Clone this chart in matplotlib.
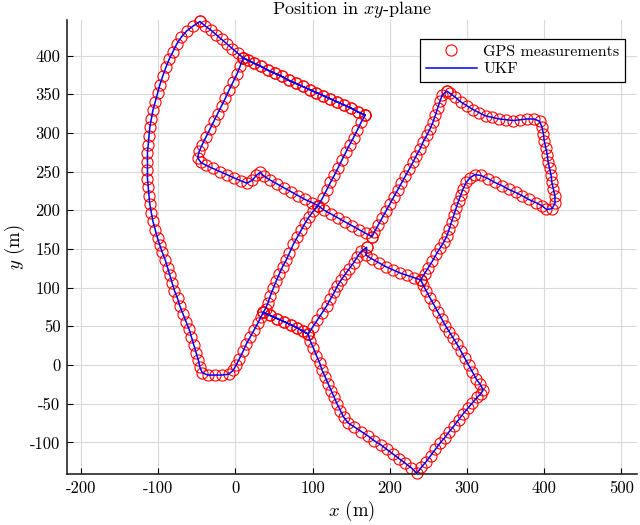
import numpy as np
import matplotlib.pyplot as plt

# road segments of the drive, (x, y) in metres
top_edge = [(168, 323), (159, 327), (150, 332), (141, 336), (132, 340), (123, 344),
            (114, 348), (105, 352), (96, 356), (87, 360), (78, 364), (69, 368),
            (60, 373), (51, 377), (42, 381), (33, 386), (24, 390), (16, 394), (10, 397)]
top_left = [(10, 397), (3, 403), (-4, 409), (-11, 415), (-18, 421), (-25, 427),
            (-32, 433), (-39, 438), (-46, 444)]
outer_curve = [(-46, 444), (-55, 438), (-63, 432), (-70, 424), (-76, 415), (-81, 405),
               (-86, 395), (-90, 385), (-94, 374), (-98, 362), (-101, 351), (-104, 340),
               (-107, 329), (-109, 318), (-111, 307), (-112, 296), (-113, 285), (-114, 274),
               (-114, 263), (-114, 252), (-114, 241), (-113, 230), (-112, 219), (-111, 208),
               (-109, 197), (-107, 186), (-104, 175), (-101, 164), (-98, 155), (-95, 146),
               (-91, 136), (-88, 126), (-85, 116), (-82, 106), (-79, 96), (-75, 86),
               (-72, 76), (-68, 66), (-64, 56), (-60, 46), (-57, 36), (-54, 26),
               (-51, 16), (-48, 6), (-46, -3), (-43, -10), (-36, -13), (-27, -13),
               (-18, -13), (-9, -12), (-3, -7), (1, 0), (5, 8), (10, 18), (14, 27),
               (19, 36), (24, 45), (29, 54), (33, 62), (36, 68)]
n1_n2 = [(36, 68), (45, 64), (54, 60), (63, 56), (72, 52), (80, 48), (87, 44), (94, 40)]
bottom_loop = [(94, 40), (97, 31), (101, 22), (105, 12), (109, 3), (112, -6), (116, -15),
               (120, -24), (124, -33), (128, -42), (132, -51), (136, -59), (140, -67),
               (146, -75), (154, -80), (163, -86), (172, -92), (180, -98), (188, -103),
               (196, -109), (204, -115), (212, -121), (220, -127), (228, -133), (235, -140),
               (241, -132), (247, -125), (253, -117), (259, -109), (265, -101), (271, -94),
               (277, -86), (283, -79), (289, -71), (295, -63), (301, -56), (307, -49),
               (313, -42), (318, -37), (321, -32), (317, -25), (312, -18), (307, -9),
               (302, 0), (297, 9), (292, 18), (287, 27), (282, 35), (277, 43), (272, 51),
               (267, 60), (262, 69), (257, 78), (252, 87), (247, 96), (243, 104), (240, 110)]
east_block = [(240, 110), (245, 118), (250, 126), (255, 134), (260, 143), (265, 151),
              (270, 159), (274, 167), (277, 176), (280, 185), (283, 194), (286, 203),
              (289, 212), (292, 220), (295, 228), (299, 236), (304, 242), (310, 246),
              (318, 245), (327, 241), (336, 236), (345, 232), (354, 227), (363, 223),
              (371, 219), (380, 214), (389, 210), (397, 206), (403, 201), (410, 202),
              (414, 209), (414, 218), (412, 227), (410, 236), (409, 245), (407, 254),
              (405, 263), (404, 272), (402, 281), (400, 290), (399, 299), (397, 308),
              (394, 315), (387, 318), (378, 318), (369, 317), (360, 316), (351, 317),
              (342, 318), (333, 320), (324, 322), (316, 326), (308, 330), (300, 335),
              (292, 340), (285, 346), (278, 351), (274, 354)]
r_to_c2 = [(274, 354), (268, 349), (265, 341), (262, 332), (259, 323), (256, 314),
           (252, 305), (248, 297), (243, 288), (239, 279), (234, 270), (230, 262),
           (225, 253), (220, 244), (215, 235), (210, 226), (205, 217), (200, 208),
           (195, 199), (190, 190), (185, 181), (180, 172), (177, 166)]
c2_to_c1 = [(177, 166), (169, 170), (160, 175), (151, 180), (142, 185), (133, 190),
            (124, 195), (115, 200), (107, 206)]
middle_loop = [(107, 206), (99, 210), (90, 214), (81, 219), (72, 224), (63, 229),
               (54, 234), (45, 239), (37, 244), (32, 249), (27, 245), (22, 239),
               (15, 235), (7, 238), (-2, 242), (-11, 246), (-20, 250), (-29, 254),
               (-38, 258), (-45, 262), (-49, 268), (-47, 276), (-43, 285), (-38, 295),
               (-33, 305), (-28, 315), (-23, 325), (-18, 335), (-13, 345), (-8, 356),
               (-3, 366), (2, 376), (6, 386), (10, 397)]
q_to_c1 = [(168, 323), (163, 314), (158, 304), (153, 294), (148, 285), (143, 275),
           (138, 265), (133, 255), (128, 245), (123, 236), (118, 226), (113, 216), (107, 206)]
c1_to_n1 = [(107, 206), (101, 199), (95, 191), (90, 183), (85, 174), (80, 165),
            (75, 156), (70, 145), (66, 136), (61, 127), (57, 118), (53, 109),
            (49, 99), (45, 89), (42, 80), (39, 73), (36, 68)]
n2_to_c2 = [(94, 40), (100, 49), (106, 58), (112, 67), (118, 76), (123, 85), (128, 94),
            (132, 102), (137, 110), (142, 117), (147, 124), (153, 132), (158, 140),
            (163, 147), (170, 152)]
c2_to_c3 = [(170, 152), (169, 142), (177, 137), (186, 132), (195, 127), (204, 123),
            (213, 119), (222, 116), (231, 113), (240, 110)]

# order in which the car drove them
route = [top_edge, top_left, outer_curve, n1_n2, bottom_loop, east_block, r_to_c2,
         c2_to_c1, middle_loop, top_edge[::-1], q_to_c1, c1_to_n1, n1_n2,
         n2_to_c2, c2_to_c3]
track = np.vstack([np.array(seg, dtype=float) for seg in route])

plt.rcParams['font.family'] = 'serif'
plt.rcParams['font.serif'] = ['cmr10']
plt.rcParams['mathtext.fontset'] = 'cm'
plt.rcParams['axes.unicode_minus'] = False

fig = plt.figure(figsize=(6.4, 5.25), dpi=100)
ax = fig.add_axes([0.105, 0.097, 0.89, 0.865])

ax.plot(track[:, 0], track[:, 1], 'o', mfc='none', mec='red', ms=8, mew=0.8,
        label='GPS measurements', clip_on=False)
ax.plot(track[:, 0], track[:, 1], '-', color='blue', lw=1.1, label='UKF')

ax.set_xlim(-218, 520)
ax.set_ylim(-141, 446)
ax.set_xticks(range(-200, 501, 100))
ax.set_yticks(range(-100, 401, 50))
ax.grid(True, color='#d9d9d9', lw=0.8)
ax.set_axisbelow(True)
for s in ['top', 'right']:
    ax.spines[s].set_visible(False)
for s in ['left', 'bottom']:
    ax.spines[s].set_linewidth(1.2)
    ax.spines[s].set_color('#262626')
ax.tick_params(direction='in', length=4, labelsize=12, pad=5, top=False, right=False)

ax.set_title('Position in $xy$-plane', fontsize=13, pad=2)
ax.set_xlabel('$x$ (m)', fontsize=13.5, labelpad=2)
ax.set_ylabel('$y$ (m)', fontsize=13.5, labelpad=2)

leg = ax.legend(loc='upper right', bbox_to_anchor=(0.979, 0.958), borderaxespad=0,
                fancybox=False, framealpha=1, edgecolor='black', fontsize=11.5,
                handlelength=3.2, handletextpad=0.4, borderpad=0.35, labelspacing=0.2)
leg.get_frame().set_linewidth(0.9)

fig.savefig('out.png', dpi=100)
